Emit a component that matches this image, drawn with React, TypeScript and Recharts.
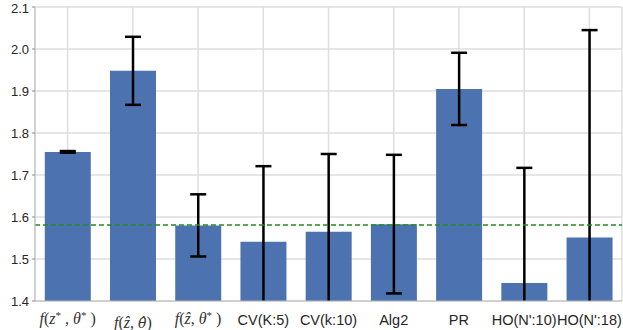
import { BarChart, Bar, XAxis, YAxis, CartesianGrid, ErrorBar, ReferenceLine } from "recharts";

const categories = ["f(z*,θ*)", "f(ẑ,θ̂)", "f(ẑ,θ*)", "CV(K:5)", "CV(k:10)", "Alg2", "PR", "HO(N':10)", "HO(N':18)"];
const means = [1.755, 1.948, 1.580, 1.541, 1.565, 1.583, 1.905, 1.443, 1.551];
const errors = [0.002, 0.081, 0.074, 0.180, 0.185, 0.165, 0.086, 0.274, 0.494];
const yTicks = [1.4, 1.5, 1.6, 1.7, 1.8, 1.9, 2.0, 2.1];
const baseline = 1.581;

const data = categories.map((name, i) => ({ name, mean: means[i], err: errors[i] }));

const MATH = "'Liberation Serif', serif";
const SANS = "'Liberation Sans', Arial, sans-serif";

function MathLabel({ idx }: { idx: number }) {
  const it = { fontStyle: "italic" as const };
  const sup = (s: string) => (
    <>
      <tspan dy={-5} fontSize={11}>{s}</tspan>
      <tspan dy={5}> </tspan>
    </>
  );
  if (idx === 0)
    return (
      <>
        <tspan {...it}>f</tspan>(<tspan {...it}>z</tspan>{sup("*")},<tspan {...it}> θ</tspan>{sup("*")})
      </>
    );
  if (idx === 1)
    return (
      <>
        <tspan {...it}>f</tspan>(<tspan {...it}>ẑ</tspan>,{" "}
        <tspan {...it} fontFamily="'DejaVu Serif', serif" fontSize={14}>θ̂</tspan>)
      </>
    );
  return (
    <>
      <tspan {...it}>f</tspan>(<tspan {...it}>ẑ</tspan>,<tspan {...it}> θ</tspan>{sup("*")})
    </>
  );
}

function XTick(props: any) {
  const { x, y, payload, index } = props;
  if (index < 3) {
    return (
      <text x={x} y={y + (index === 1 ? 19 : 15)} textAnchor="middle" fontFamily={MATH} fontSize={16} fill="#333">
        <MathLabel idx={index} />
      </text>
    );
  }
  return (
    <text x={x} y={y + 16} textAnchor="middle" fontFamily={SANS} fontSize={14.5} fill="#262626">
      {payload.value}
    </text>
  );
}

export default function App() {
  return (
    <div style={{ position: "absolute", left: 0, top: 0, background: "#fff" }}>
      {/* error bars are cut at the plot floor, as in the original */}
      <style>{`.recharts-errorBar { clip-path: url(#plotClip); }`}</style>
      <svg width={0} height={0} style={{ position: "absolute" }}>
        <defs>
          <clipPath id="plotClip" clipPathUnits="userSpaceOnUse">
            <rect x={0} y={0} width={623} height={301} />
          </clipPath>
        </defs>
      </svg>
      <BarChart width={623} height={330} data={data} margin={{ top: 7, right: 1, bottom: 0, left: 0 }} barCategoryGap="15%">
        <CartesianGrid stroke="#dedede" strokeWidth={1.5} />
        <XAxis dataKey="name" height={29} tickLine={false} axisLine={{ stroke: "#bbbbbb" }} tick={<XTick />} interval={0} />
        <YAxis
          width={35}
          domain={[1.4, 2.1]}
          ticks={yTicks}
          allowDataOverflow
          tickFormatter={(v: number) => v.toFixed(1)}
          tickSize={3}
          tickMargin={3}
          tickLine={{ stroke: "#888" }}
          axisLine={{ stroke: "#bbbbbb" }}
          tick={{ fontSize: 13, fill: "#262626", fontFamily: SANS }}
        />
        <Bar dataKey="mean" fill="#4c72b0" isAnimationActive={false}>
          <ErrorBar dataKey="err" direction="y" width={8} strokeWidth={2.5} stroke="#000" />
        </Bar>
        <ReferenceLine y={baseline} stroke="#228b22" strokeWidth={1.5} strokeDasharray="5 3" />
      </BarChart>
    </div>
  );
}
